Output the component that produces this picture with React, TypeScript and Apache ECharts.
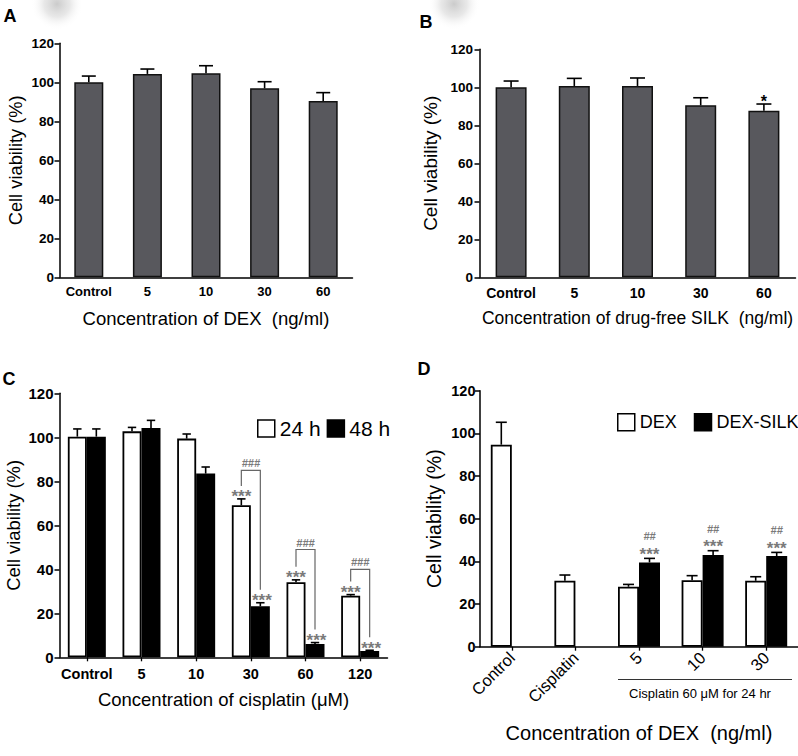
import React, { useEffect, useRef } from 'react';
import * as echarts from 'echarts';

const FONT = '"Liberation Sans", Arial, Helvetica, sans-serif';

// Panel A
const catsA = ['Control', '5', '10', '30', '60'];
const valA = [100, 104.3, 104.6, 96.9, 90.4];
const errA = [3.2, 2.5, 3.9, 3.4, 4.3];

// Panel B
const catsB = ['Control', '5', '10', '30', '60'];
const valB = [100, 100.7, 100.7, 90.5, 87.7];
const errB = [3.3, 4.0, 4.2, 4.0, 3.5];
const sigB = ['', '', '', '', '*'];

// Panel C
const catsC = ['Control', '5', '10', '30', '60', '120'];
const c24 = [100.3, 102.7, 99.4, 69.1, 34.1, 28.0];
const c24err = [3.5, 1.8, 2.1, 2.9, 1.1, 0.5];
const c48 = [100.3, 104.2, 83.5, 23.2, 6.1, 2.9];
const c48err = [3.5, 3.5, 3.0, 1.6, 0.6, 0.3];
const sigC24 = ['', '', '', '***', '***', '***'];
const sigC48 = ['', '', '', '***', '***', '***'];
const bracketC = [3, 4, 5];
const bracketTopC = [85, 49, 40];
const bracketLabelC = '###';

// Panel D
const catsD = ['Control', 'Cisplatin', '5', '10', '30'];
const dDex = [94.7, 30.9, 28.1, 31.2, 30.9];
const dDexErr = [10.5, 2.7, 1.1, 2.1, 1.9];
const dSilk: (number | null)[] = [null, null, 39.5, 43.0, 42.5];
const dSilkErr: (number | null)[] = [null, null, 1.9, 2.0, 1.7];
const sigD = ['', '', '***', '***', '***'];
const hashD = ['', '', '##', '##', '##'];

function errBars(ax: number, vals: (number | null)[], errs: (number | null)[], dx: number, capHalf: number) {
  const data: number[][] = [];
  vals.forEach((v, i) => {
    if (v != null && errs[i] != null) data.push([i, v, errs[i] as number]);
  });
  return {
    type: 'custom',
    xAxisIndex: ax,
    yAxisIndex: ax,
    z: 10,
    silent: true,
    clip: false,
    data,
    renderItem: (params: any, api: any) => {
      const i = api.value(0);
      const v = api.value(1);
      const e = api.value(2);
      const b = api.coord([i, v]);
      const t = api.coord([i, v + e]);
      const x = b[0] + dx;
      return {
        type: 'group',
        children: [
          { type: 'line', shape: { x1: x, y1: b[1], x2: x, y2: t[1] }, style: { stroke: '#000', lineWidth: 1.6 } },
          { type: 'line', shape: { x1: x - capHalf, y1: t[1], x2: x + capHalf, y2: t[1] }, style: { stroke: '#000', lineWidth: 1.6 } },
        ],
      };
    },
  };
}

function sigText(
  ax: number,
  vals: (number | null)[],
  errs: (number | null)[],
  labels: string[],
  dx: number,
  gapPx: number,
  font: string,
  color: string
) {
  const data: number[][] = [];
  const texts: string[] = [];
  labels.forEach((s, i) => {
    if (s && vals[i] != null) {
      data.push([i, (vals[i] as number) + ((errs[i] as number) || 0)]);
      texts.push(s);
    }
  });
  return {
    type: 'custom',
    xAxisIndex: ax,
    yAxisIndex: ax,
    z: 11,
    silent: true,
    clip: false,
    data,
    renderItem: (params: any, api: any) => {
      const p = api.coord([api.value(0), api.value(1)]);
      return {
        type: 'text',
        x: p[0] + dx,
        y: p[1] - gapPx,
        style: {
          text: texts[params.dataIndex],
          font,
          fill: color,
          align: 'center',
          verticalAlign: 'middle',
          textAlign: 'center',
          textVerticalAlign: 'middle',
        },
      };
    },
  };
}

function bracketSeries() {
  return {
    type: 'custom',
    xAxisIndex: 2,
    yAxisIndex: 2,
    z: 11,
    silent: true,
    clip: false,
    data: bracketC.map((ci, k) => [ci, bracketTopC[k]]),
    renderItem: (params: any, api: any) => {
      const k = params.dataIndex;
      const ci = bracketC[k];
      const pL = api.coord([ci, c24[ci] + c24err[ci]]);
      const pR = api.coord([ci, c48[ci] + c48err[ci]]);
      const pT = api.coord([ci, bracketTopC[k]]);
      const xL = pL[0] - 9.5;
      const xR = pL[0] + 9.5;
      return {
        type: 'group',
        children: [
          {
            type: 'polyline',
            shape: { points: [[xL, pL[1] - 13], [xL, pT[1]], [xR, pT[1]], [xR, pR[1] - 13]] },
            style: { stroke: '#666', lineWidth: 1.2, fill: 'none' },
          },
          {
            type: 'text',
            x: (xL + xR) / 2,
            y: pT[1] - 7,
            style: {
              text: bracketLabelC,
              font: 'italic bold 11px ' + FONT,
              fill: '#7a7a7a',
              align: 'center',
              verticalAlign: 'middle',
              textAlign: 'center',
              textVerticalAlign: 'middle',
            },
          },
        ],
      };
    },
  };
}

function yAxis(gi: number, fs: number, margin: number, nameGap: number, nameFs: number) {
  return {
    type: 'value',
    gridIndex: gi,
    min: 0,
    max: 120,
    interval: 20,
    name: 'Cell viability (%)',
    nameLocation: 'middle',
    nameGap,
    nameRotate: 90,
    nameTextStyle: { fontSize: nameFs, fontFamily: FONT, color: '#000' },
    axisLine: { show: true, lineStyle: { color: '#000', width: 1.5 } },
    axisTick: { show: true, length: 5, lineStyle: { color: '#000', width: 1.5 } },
    axisLabel: { fontSize: fs, fontWeight: 'bold', fontFamily: FONT, color: '#000', margin },
    splitLine: { show: false },
  };
}

function xAxis(gi: number, cats: string[], name: string, nameGap: number, nameFs: number, label: any, ticks: boolean) {
  return {
    type: 'category',
    gridIndex: gi,
    data: cats,
    name,
    nameLocation: 'middle',
    nameGap,
    nameTextStyle: { fontSize: nameFs, fontFamily: FONT, color: '#000' },
    axisLine: { show: true, lineStyle: { color: '#000', width: 1.5 } },
    axisTick: { show: ticks, alignWithLabel: true, length: 4, lineStyle: { color: '#000', width: 1.3 } },
    axisLabel: Object.assign({ fontFamily: FONT, color: '#000', interval: 0 }, label),
    splitLine: { show: false },
  };
}

function smudge(cx: number, cy: number, r: number) {
  return {
    type: 'circle',
    shape: { cx, cy, r },
    silent: true,
    z: -10,
    style: {
      fill: new echarts.graphic.RadialGradient(0.5, 0.5, 0.5, [
        { offset: 0, color: 'rgba(200,200,200,0.95)' },
        { offset: 0.5, color: 'rgba(222,222,222,0.7)' },
        { offset: 1, color: 'rgba(255,255,255,0)' },
      ]),
    },
  };
}

function panelLetter(text: string, x: number, y: number) {
  return {
    type: 'text',
    x,
    y,
    style: {
      text,
      font: 'bold 18px ' + FONT,
      fill: '#000',
      align: 'center',
      verticalAlign: 'middle',
      textAlign: 'center',
      textVerticalAlign: 'middle',
    },
  };
}

function buildOption(): any {
  const gray = '#58585d';
  return {
    animation: false,
    backgroundColor: '#fff',
    grid: [
      { left: 59.5, top: 43.3, width: 293, height: 234 },
      { left: 479.5, top: 49.3, width: 316, height: 228 },
      { left: 59.5, top: 393.3, width: 328, height: 264 },
      { left: 480, top: 390.7, width: 318, height: 256 },
    ],
    xAxis: [
      xAxis(0, catsA, 'Concentration of DEX  (ng/ml)', 31.5, 18.5, { fontSize: 13, fontWeight: 'bold', margin: 8 }, false),
      xAxis(1, catsB, 'Concentration of drug-free SILK  (ng/ml)', 32, 17.5, { fontSize: 14, fontWeight: 'bold', margin: 9 }, false),
      xAxis(2, catsC, 'Concentration of cisplatin (\u03bcM)', 33, 18.5, { fontSize: 14.5, fontWeight: 'bold', margin: 9 }, true),
      xAxis(3, catsD, 'Concentration of DEX  (ng/ml)', 76, 20, { fontSize: 16.5, rotate: 45, margin: 8 }, true),
    ],
    yAxis: [
      yAxis(0, 13.5, 5.5, 35, 18.3),
      yAxis(1, 13.5, 6.5, 40, 19),
      yAxis(2, 15, 6, 37, 18.4),
      yAxis(3, 14.5, 4.5, 36, 19.5),
    ],
    legend: [
      {
        data: ['24 h', '48 h'],
        left: 252,
        top: 413,
        width: 200,
        itemWidth: 17,
        itemHeight: 17,
        itemGap: 6,
        icon: 'rect',
        selectedMode: false,
        textStyle: { fontSize: 21, fontFamily: FONT, color: '#000' },
        itemStyle: { borderColor: '#000', borderWidth: 1.5 },
      },
      {
        data: ['DEX', 'DEX-SILK'],
        left: 612,
        top: 408,
        width: 260,
        itemWidth: 17,
        itemHeight: 17,
        itemGap: 17,
        icon: 'rect',
        selectedMode: false,
        textStyle: { fontSize: 18, fontFamily: FONT, color: '#000' },
        itemStyle: { borderColor: '#000', borderWidth: 1.5 },
      },
    ],
    series: [
      {
        type: 'bar',
        name: 'A',
        xAxisIndex: 0,
        yAxisIndex: 0,
        data: valA,
        barWidth: 29,
        itemStyle: { color: gray, borderColor: '#111', borderWidth: 1.5 },
      },
      errBars(0, valA, errA, 0, 7),
      {
        type: 'bar',
        name: 'B',
        xAxisIndex: 1,
        yAxisIndex: 1,
        data: valB,
        barWidth: 31,
        itemStyle: { color: gray, borderColor: '#111', borderWidth: 1.5 },
      },
      errBars(1, valB, errB, 0, 7.5),
      sigText(1, valB, errB, sigB, 0, 3, 'bold 16px ' + FONT, '#000'),
      {
        type: 'bar',
        name: '24 h',
        xAxisIndex: 2,
        yAxisIndex: 2,
        data: c24,
        barWidth: 19,
        barGap: '0%',
        itemStyle: { color: '#fff', borderColor: '#000', borderWidth: 1.8 },
      },
      {
        type: 'bar',
        name: '48 h',
        xAxisIndex: 2,
        yAxisIndex: 2,
        data: c48,
        barWidth: 19,
        barGap: '0%',
        itemStyle: { color: '#000', borderColor: '#000', borderWidth: 1.8 },
      },
      errBars(2, c24, c24err, -9.5, 4.2),
      errBars(2, c48, c48err, 9.5, 4.2),
      sigText(2, c24, c24err, sigC24, -9.5, 2, 'bold 17px ' + FONT, '#7a7a7a'),
      sigText(2, c48, c48err, sigC48, 11, 2, 'bold 17px ' + FONT, '#7a7a7a'),
      bracketSeries(),
      {
        type: 'bar',
        name: 'DEX',
        xAxisIndex: 3,
        yAxisIndex: 3,
        data: dDex,
        barWidth: 21,
        barGap: '0%',
        itemStyle: { color: '#fff', borderColor: '#000', borderWidth: 1.8 },
      },
      {
        type: 'bar',
        name: 'DEX-SILK',
        xAxisIndex: 3,
        yAxisIndex: 3,
        data: dSilk,
        barWidth: 21,
        barGap: '0%',
        itemStyle: { color: '#000', borderColor: '#000', borderWidth: 1.8 },
      },
      errBars(3, dDex, dDexErr, -10.5, 5.5),
      errBars(3, dSilk, dSilkErr, 10.5, 5.5),
      sigText(3, dSilk, dSilkErr, sigD, 10.5, 4, 'bold 17px ' + FONT, '#7a7a7a'),
      sigText(3, dSilk, dSilkErr, hashD, 10.5, 22, 'italic bold 11px ' + FONT, '#7a7a7a'),
    ],
    graphic: [
      smudge(57, 4, 26),
      smudge(454, 4, 26),
      panelLetter('A', 10, 16),
      panelLetter('B', 426, 22),
      panelLetter('C', 9, 379),
      panelLetter('D', 424, 369),
      {
        type: 'line',
        shape: { x1: 618, y1: 679.5, x2: 792, y2: 679.5 },
        style: { stroke: '#333', lineWidth: 1 },
      },
      {
        type: 'text',
        x: 700,
        y: 693,
        style: {
          text: 'Cisplatin 60 \u03bcM for 24 hr',
          font: '13px ' + FONT,
          fill: '#000',
          align: 'center',
          verticalAlign: 'middle',
          textAlign: 'center',
          textVerticalAlign: 'middle',
        },
      },
    ],
  };
}

export default function App() {
  const ref = useRef<HTMLDivElement>(null);
  useEffect(() => {
    document.body.style.margin = '0';
    const chart = echarts.init(ref.current as HTMLDivElement, null, { renderer: 'svg' });
    chart.setOption(buildOption());
    return () => chart.dispose();
  }, []);
  return <div ref={ref} style={{ width: 798, height: 756, background: '#fff' }} />;
}
